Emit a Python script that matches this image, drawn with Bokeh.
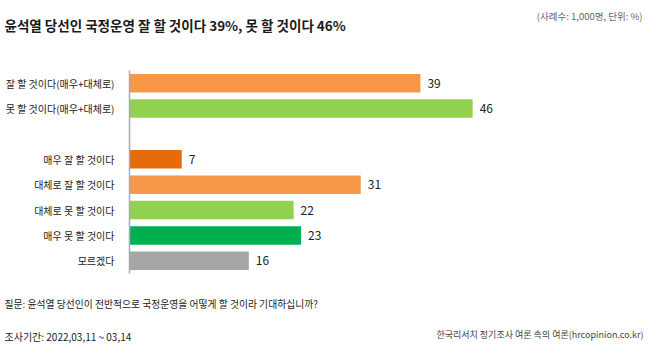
from bokeh.plotting import figure
from bokeh.models import Range1d, Label, ColumnDataSource, FixedTicker
from bokeh.core.properties import value
from bokeh.embed import file_html
from bokeh.resources import INLINE

FONT = "Noto Sans CJK KR"

# ---- data ----
row_labels = ["잘 할 것이다(매우+대체로)", "못 할 것이다(매우+대체로)", "",
              "매우 잘 할 것이다", "대체로 잘 할 것이다", "대체로 못 할 것이다",
              "매우 못 할 것이다", "모르겠다"]
categories = ["잘 할 것이다(매우+대체로)", "못 할 것이다(매우+대체로)",
              "매우 잘 할 것이다", "대체로 잘 할 것이다", "대체로 못 할 것이다",
              "매우 못 할 것이다", "모르겠다"]
values = [39, 46, 7, 31, 22, 23, 16]
colors = ["#F79646", "#92D050", "#E46C0A", "#F79646", "#92D050", "#00B050", "#A6A6A6"]

title_text = "윤석열 당선인 국정운영 잘 할 것이다 39%, 못 할 것이다 46%"
note_text = "(사례수: 1,000명, 단위: %)"
question_text = "질문: 윤석열 당선인이 전반적으로 국정운영을 어떻게 할 것이라 기대하십니까?"
period_text = "조사기간: 2022,03,11 ~ 03,14"
source_text = "한국리서치 정기조사 여론 속의 여론(hrcopinion.co.kr)"

rows = [row_labels.index(c) for c in categories]
src = ColumnDataSource(dict(row=rows, val=values, color=colors,
                            lbl=[str(v) for v in values]))

W, H = 650, 360
p = figure(width=W, height=H, output_backend="svg", toolbar_location=None,
           x_range=Range1d(-17.29, 69.84), y_range=Range1d(10.928, -3.259),
           min_border=0, min_border_left=0, min_border_right=0,
           min_border_top=0, min_border_bottom=0)
p.outline_line_color = None
p.background_fill_color = "white"
p.border_fill_color = "white"
p.xgrid.visible = False
p.ygrid.visible = False
p.xaxis.visible = False

ax = p.yaxis[0]
ax.fixed_location = 0
ax.bounds = (-0.5, len(row_labels) - 0.5)
ax.ticker = FixedTicker(ticks=list(range(len(row_labels))))
ax.major_label_overrides = {i: t for i, t in enumerate(row_labels)}
ax.axis_line_color = "#A3ABB8"
ax.axis_line_width = 1.5
ax.major_tick_line_color = None
ax.minor_tick_line_color = None
ax.major_label_standoff = 9
ax.major_label_text_font = FONT
ax.major_label_text_font_size = "10px"
ax.major_label_text_color = "#222222"

p.hbar(y="row", left=0, right="val", height=0.73, color="color",
       line_color=None, source=src)
p.text(x="val", y="row", text="lbl", source=src, x_offset=7,
       text_baseline="middle", text_align="left",
       text_font=value(FONT), text_font_size="12px", text_color="#222222")

def lab(txt, x, y_from_top, size, color, align="left", bold=False):
    p.add_layout(Label(x=x, y=H - y_from_top, x_units="screen", y_units="screen",
                       text=txt, text_font=FONT, text_font_size=size,
                       text_color=color, text_align=align, text_baseline="middle",
                       text_font_style="bold" if bold else "normal"))

lab(title_text, 4, 24, "13.5px", "#1a1a1a", bold=True)
lab(note_text, 642, 15, "9.5px", "#666666", align="right")
lab(question_text, 4, 303, "9.8px", "#222222")
lab(period_text, 4, 336, "10px", "#222222")
lab(source_text, 643, 334, "9px", "#444444", align="right")

open("out.html", "w").write(file_html(p, INLINE))
